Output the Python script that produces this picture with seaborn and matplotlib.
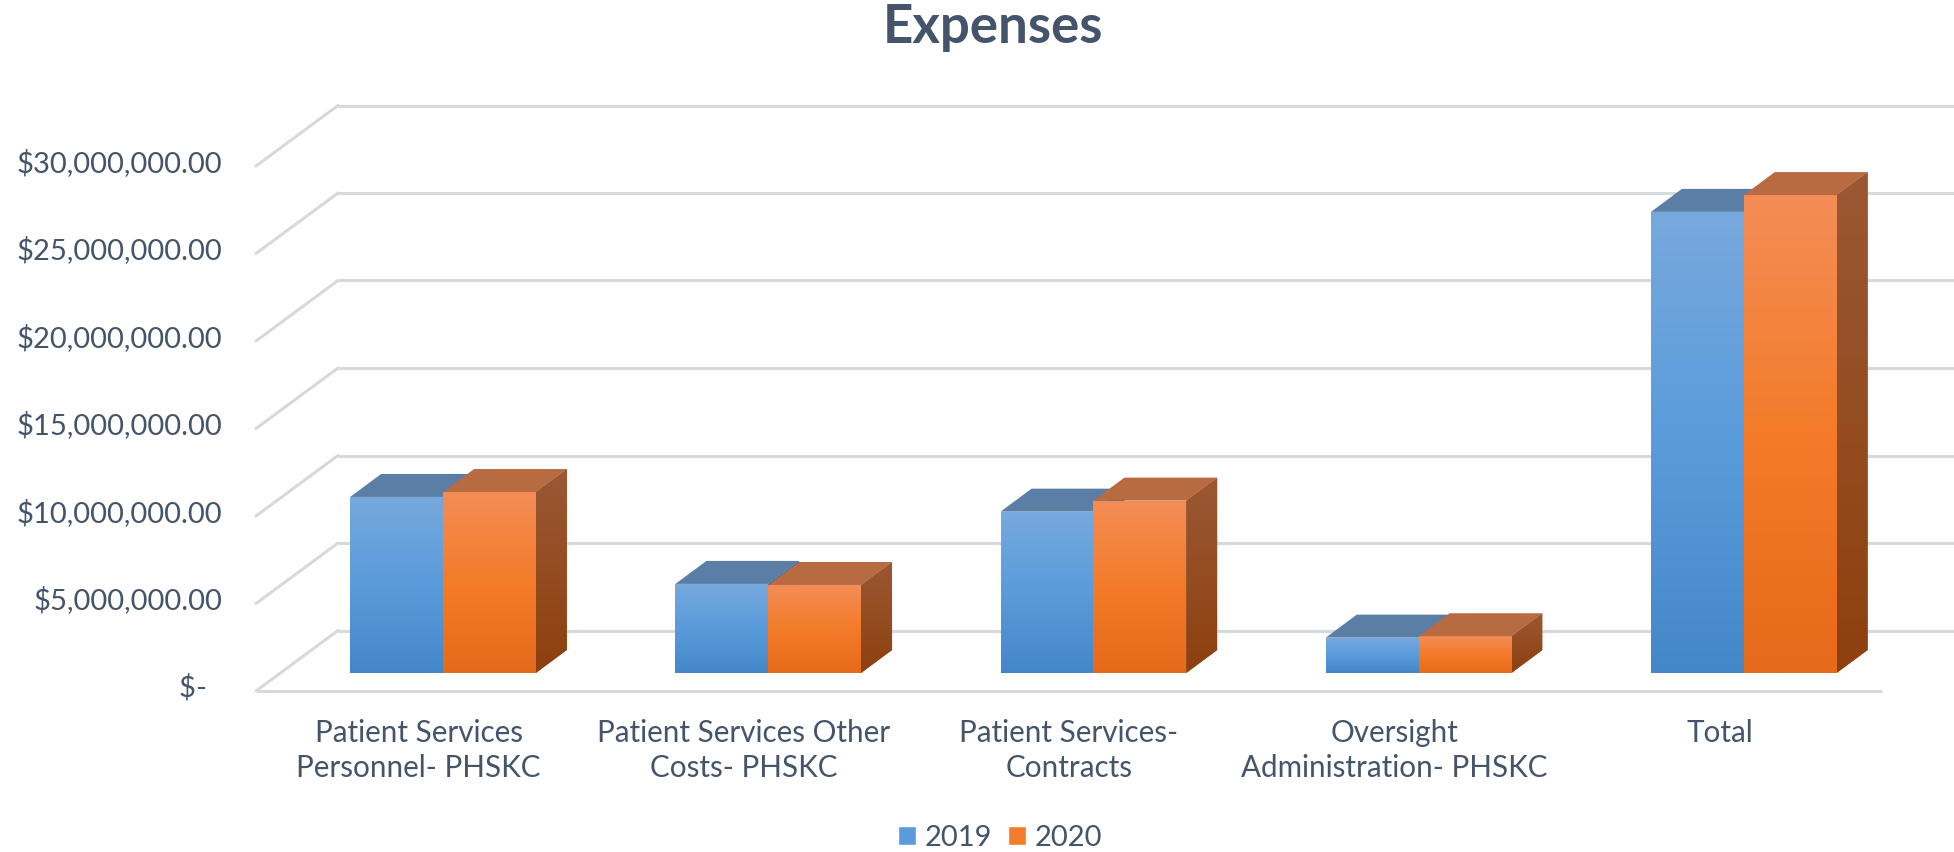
import matplotlib
matplotlib.use("Agg")
import matplotlib.pyplot as plt
import matplotlib.transforms as mtransforms
import numpy as np
import pandas as pd
import seaborn as sns
from matplotlib.colors import LinearSegmentedColormap
from matplotlib.lines import Line2D
from matplotlib.patches import Patch, Polygon

# ---------------------------------------------------------------------------
# data
# ---------------------------------------------------------------------------
categories = [
    "Patient Services\nPersonnel- PHSKC",
    "Patient Services Other\nCosts- PHSKC",
    "Patient Services-\nContracts",
    "Oversight\nAdministration- PHSKC",
    "Total",
]
years = ["2019", "2020"]
expenses_2019 = [10_060_000, 5_090_000, 9_220_000, 2_020_000, 26_350_000]
expenses_2020 = [10_340_000, 5_030_000, 9_850_000, 2_100_000, 27_310_000]
tick_values = [0, 5_000_000, 10_000_000, 15_000_000, 20_000_000, 25_000_000, 30_000_000]
tick_labels = ["$-  ", "$5,000,000.00", "$10,000,000.00", "$15,000,000.00",
               "$20,000,000.00", "$25,000,000.00", "$30,000,000.00"]

df = pd.DataFrame({
    "category": categories * 2,
    "year": [years[0]] * len(categories) + [years[1]] * len(categories),
    "value": expenses_2019 + expenses_2020,
})

TEXT = "#44546A"
GRID = "#D6D9DD"
# (bottom, middle, top) colours for the front faces, then top / side faces
front_cols = {"2019": ["#4487C8", "#5A9BDB", "#77A9DD"],
              "2020": ["#E56A1B", "#F47B29", "#F38D56"]}
top_cols = {"2019": "#5A7EA6", "2020": "#B86B41"}
side_cols = {"2019": ["#2F5F8E", "#3E6E9E"], "2020": ["#8E400E", "#9B5834"]}

sns.set_theme(style="white")
plt.rcParams["font.family"] = ["Lato", "DejaVu Sans"]

W, H = 1954, 852
fig = plt.figure(figsize=(W / 100, H / 100), dpi=100)
# axes = the plane the bar fronts stand in
ax = fig.add_axes([280.4 / W, 179 / H, 1626 / W, 525 / H])

sns.barplot(data=df, x="category", y="value", hue="year", order=categories,
            hue_order=years, palette=[front_cols[y][1] for y in years],
            width=0.571, saturation=1, errorbar=None, legend=False, ax=ax,
            zorder=3)
ax.set_xlim(-0.5, len(categories) - 0.5)
ax.set_ylim(tick_values[0], tick_values[-1])
ax.set_xticks([])
ax.set_yticks([])
ax.set_xlabel("")
ax.set_ylabel("")
sns.despine(ax=ax, left=True, bottom=True)
ax.set_facecolor("none")


def shift(dx, dy):
    """data transform moved by dx, dy pixels (3d depth planes)"""
    return ax.transData + mtransforms.ScaledTranslation(dx / fig.dpi, dy / fig.dpi,
                                                        fig.dpi_scale_trans)


FRONT = (-24.4, -18)   # floor front edge relative to bar plane
BACK = (57.6, 42.5)    # back wall relative to bar plane
BAR_DEPTH = (31, 23)   # depth of a single bar

# pixel -> data size of the bar depth
o = ax.transData.transform((0, 0))
ddx, ddy = ax.transData.inverted().transform(o + np.array(BAR_DEPTH)) - np.array([0, 0])

x_lo, x_hi = -0.5, len(categories) - 0.5

# back wall gridlines + left slanted wall edge
for v in tick_values:
    ax.plot([x_lo, x_hi + 1], [v, v], color=GRID, lw=2.2, transform=shift(*BACK),
            clip_on=False, zorder=1, solid_capstyle="butt")
    fx, fy = shift(*FRONT).transform((x_lo, v))
    bx, by = shift(*BACK).transform((x_lo, v))
    fig.add_artist(Line2D([fx / W, bx / W], [fy / H, by / H], color=GRID, lw=2.2,
                          transform=fig.transFigure, zorder=1))
# floor front edge
ax.plot([x_lo, x_hi], [0, 0], color=GRID, lw=2.2, transform=shift(*FRONT),
        clip_on=False, zorder=1, solid_capstyle="butt")

# y labels on the front plane
for v, lab in zip(tick_values, tick_labels):
    ax.text(x_lo, v, lab, ha="right", va="center", fontsize=21, color=TEXT,
            transform=shift(FRONT[0] - 34, FRONT[1] + 3))

# category labels on the front plane
for i, cat in enumerate(categories):
    ax.text(i, 0, cat, ha="center", va="top", fontsize=21.3, color=TEXT,
            linespacing=1.3, transform=shift(FRONT[0], FRONT[1] - 28))

# 3d look: gradient fronts, tops and right sides
grad = np.linspace(0, 1, 256).reshape(-1, 1)
bars = list(ax.patches)
for k, bar in enumerate(bars):
    yr = years[k // len(categories)]
    z = 3 + 2 * (k // len(categories))
    x0, w, h = bar.get_x(), bar.get_width(), bar.get_height()
    x1 = x0 + w
    bar.set_zorder(z)
    bar.set_edgecolor("none")
    cm = LinearSegmentedColormap.from_list("f", front_cols[yr])
    im = ax.imshow(grad, cmap=cm, origin="lower", aspect="auto",
                   extent=(x0, x1, 0, h), interpolation="bilinear", zorder=z + 0.1)
    im.set_clip_path(bar)

    top = Polygon([(x0, h), (x1, h), (x1 + ddx, h + ddy), (x0 + ddx, h + ddy)],
                  closed=True, facecolor=top_cols[yr], edgecolor="none",
                  zorder=z + 0.2, clip_on=False)
    ax.add_patch(top)

    side = Polygon([(x1, 0), (x1 + ddx, ddy), (x1 + ddx, h + ddy), (x1, h)],
                   closed=True, facecolor=side_cols[yr][1], edgecolor="none",
                   zorder=z - 0.5, clip_on=False)
    ax.add_patch(side)
    cs = LinearSegmentedColormap.from_list("s", side_cols[yr])
    ims = ax.imshow(grad, cmap=cs, origin="lower", aspect="auto",
                    extent=(x1, x1 + ddx, 0, h + ddy), interpolation="bilinear",
                    zorder=z - 0.4)
    ims.set_clip_path(side)

ax.set_xlim(x_lo, x_hi)
ax.set_ylim(tick_values[0], tick_values[-1])

# title and legend
fig.text(993 / W, 1 - 27 / H, "Expenses", ha="center", va="center", fontsize=38,
         fontweight="bold", color=TEXT)
handles = [Patch(facecolor=front_cols[y][1], label=y) for y in years]
fig.legend(handles=handles, loc="center", bbox_to_anchor=(1000 / W, 14 / H),
           ncol=2, frameon=False, fontsize=21, labelcolor=TEXT,
           handlelength=0.62, handleheight=0.62, handletextpad=0.3,
           columnspacing=0.55)

fig.savefig("out.png", dpi=100, facecolor="white")
